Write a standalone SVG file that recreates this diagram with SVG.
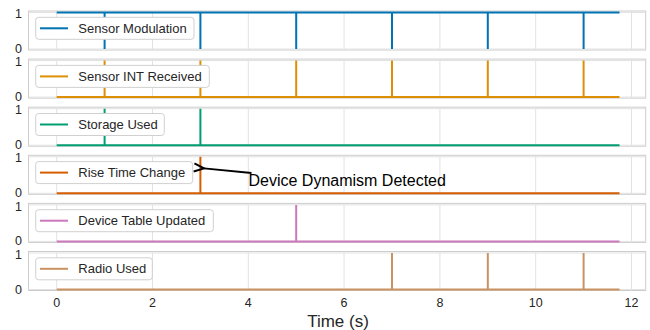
<svg xmlns="http://www.w3.org/2000/svg" width="650" height="330" viewBox="0 0 650 330">
<defs>
<style>
text{font-family:"Liberation Sans",Arial,sans-serif;fill:#262626}
.frame{fill:#fff;stroke:#cccccc;stroke-width:1}
.grid{stroke:#e2e2e2;stroke-width:1;fill:none}
.ytick{font-size:12.5px;text-anchor:end}
.xtick{font-size:12.5px;text-anchor:middle}
.leg{fill:#fff;stroke:#d0d0d0;stroke-width:1}
.legt{font-size:13px}
.sig{fill:none;stroke-width:2;stroke-linejoin:miter}
</style>
<marker id="ah" markerWidth="14" markerHeight="14" refX="1.5" refY="7" orient="auto" markerUnits="userSpaceOnUse">
<path d="M11.5,3 L1.5,7 L11.5,11" fill="none" stroke="#000" stroke-width="2"/>
</marker>
</defs>
<rect width="650" height="330" fill="#fff"/>

<!-- Panel 1 -->
<g id="panel-sensor-modulation">
<rect class="frame" x="28.5" y="11" width="617.2" height="39"/>
<path class="grid" d="M56.7 11V50M152.5 11V50M248.3 11V50M344.1 11V50M439.9 11V50M535.7 11V50M631.5 11V50M28.5 12.5H645.7M28.5 49H645.7"/>
<path class="sig" stroke="#0173b2" d="M56.7 12.5H104.6V49V12.5H200.4V49V12.5H296.2V49V12.5H392V49V12.5H487.8V49V12.5H583.6V49V12.5H619.5"/>
<text class="ytick" x="22" y="17.8">1</text>
<text class="ytick" x="22" y="53">0</text>
<rect class="leg" x="35.7" y="17.3" width="158.3" height="22" rx="3"/>
<line x1="40" y1="28.3" x2="68" y2="28.3" stroke="#0173b2" stroke-width="2"/>
<text class="legt" x="78.3" y="32.8">Sensor Modulation</text>
</g>

<!-- Panel 2 -->
<g id="panel-sensor-int-received">
<rect class="frame" x="28.5" y="59.1" width="617.2" height="39"/>
<path class="grid" d="M56.7 59.1V98.1M152.5 59.1V98.1M248.3 59.1V98.1M344.1 59.1V98.1M439.9 59.1V98.1M535.7 59.1V98.1M631.5 59.1V98.1M28.5 60.6H645.7M28.5 97.1H645.7"/>
<path class="sig" stroke="#de8f05" d="M56.7 97.1H104.6V60.6V97.1H200.4V60.6V97.1H296.2V60.6V97.1H392V60.6V97.1H487.8V60.6V97.1H583.6V60.6V97.1H619.5"/>
<text class="ytick" x="22" y="66.2">1</text>
<text class="ytick" x="22" y="101.1">0</text>
<rect class="leg" x="35.7" y="65.4" width="173.6" height="22" rx="3"/>
<line x1="40" y1="76.4" x2="68" y2="76.4" stroke="#de8f05" stroke-width="2"/>
<text class="legt" x="78.3" y="80.9">Sensor INT Received</text>
</g>

<!-- Panel 3 -->
<g id="panel-storage-used">
<rect class="frame" x="28.5" y="107.2" width="617.2" height="39"/>
<path class="grid" d="M56.7 107.2V146.2M152.5 107.2V146.2M248.3 107.2V146.2M344.1 107.2V146.2M439.9 107.2V146.2M535.7 107.2V146.2M631.5 107.2V146.2M28.5 108.7H645.7M28.5 145.2H645.7"/>
<path class="sig" stroke="#029e73" d="M56.7 145.2H104.6V108.7V145.2H200.4V108.7V145.2H619.5"/>
<text class="ytick" x="22" y="114.3">1</text>
<text class="ytick" x="22" y="149.2">0</text>
<rect class="leg" x="35.7" y="113.5" width="128.6" height="22" rx="3"/>
<line x1="40" y1="124.5" x2="68" y2="124.5" stroke="#029e73" stroke-width="2"/>
<text class="legt" x="78.3" y="129">Storage Used</text>
</g>

<!-- Panel 4 -->
<g id="panel-rise-time-change">
<rect class="frame" x="28.5" y="155.3" width="617.2" height="39"/>
<path class="grid" d="M56.7 155.3V194.3M152.5 155.3V194.3M248.3 155.3V194.3M344.1 155.3V194.3M439.9 155.3V194.3M535.7 155.3V194.3M631.5 155.3V194.3M28.5 156.8H645.7M28.5 193.3H645.7"/>
<path class="sig" stroke="#d55e00" d="M56.7 193.3H200.4V156.8V193.3H619.5"/>
<text class="ytick" x="22" y="162.4">1</text>
<text class="ytick" x="22" y="197.3">0</text>
<rect class="leg" x="35.7" y="161.6" width="157" height="22" rx="3"/>
<line x1="40" y1="172.6" x2="68" y2="172.6" stroke="#d55e00" stroke-width="2"/>
<text class="legt" x="78.3" y="177.1">Rise Time Change</text>
</g>

<!-- Panel 5 -->
<g id="panel-device-table-updated">
<rect class="frame" x="28.5" y="203.4" width="617.2" height="39"/>
<path class="grid" d="M56.7 203.4V242.4M152.5 203.4V242.4M248.3 203.4V242.4M344.1 203.4V242.4M439.9 203.4V242.4M535.7 203.4V242.4M631.5 203.4V242.4M28.5 204.9H645.7M28.5 241.4H645.7"/>
<path class="sig" stroke="#cc78bc" d="M56.7 241.4H296.2V204.9V241.4H619.5"/>
<text class="ytick" x="22" y="210.5">1</text>
<text class="ytick" x="22" y="245.4">0</text>
<rect class="leg" x="35.7" y="209.7" width="177.6" height="22" rx="3"/>
<line x1="40" y1="220.7" x2="68" y2="220.7" stroke="#cc78bc" stroke-width="2"/>
<text class="legt" x="78.3" y="225.2">Device Table Updated</text>
</g>

<!-- Panel 6 -->
<g id="panel-radio-used">
<rect class="frame" x="28.5" y="251.5" width="617.2" height="39"/>
<path class="grid" d="M56.7 251.5V290.5M152.5 251.5V290.5M248.3 251.5V290.5M344.1 251.5V290.5M439.9 251.5V290.5M535.7 251.5V290.5M631.5 251.5V290.5M28.5 253H645.7M28.5 289.5H645.7"/>
<path class="sig" stroke="#ca9161" d="M56.7 289.5H392V253V289.5H487.8V253V289.5H583.6V253V289.5H619.5"/>
<text class="ytick" x="22" y="258.6">1</text>
<text class="ytick" x="22" y="294">0</text>
<rect class="leg" x="35.7" y="257.8" width="116.6" height="22" rx="3"/>
<line x1="40" y1="268.8" x2="68" y2="268.8" stroke="#ca9161" stroke-width="2"/>
<text class="legt" x="78.3" y="273.3">Radio Used</text>
</g>

<!-- X axis -->
<g id="x-axis">
<text class="xtick" x="56.7" y="307">0</text>
<text class="xtick" x="152.5" y="307">2</text>
<text class="xtick" x="248.3" y="307">4</text>
<text class="xtick" x="344.1" y="307">6</text>
<text class="xtick" x="439.9" y="307">8</text>
<text class="xtick" x="535.7" y="307">10</text>
<text class="xtick" x="631.5" y="307">12</text>
<text x="338" y="327" font-size="17" text-anchor="middle">Time (s)</text>
</g>

<!-- Annotation -->
<g id="connectors">
<line x1="251.5" y1="173" x2="204" y2="168.4" stroke="#000" stroke-width="1.8" marker-end="url(#ah)"/>
</g>
<g id="annotation">
<text x="248.5" y="186" font-size="16" style="fill:#000">Device Dynamism Detected</text>
</g>
</svg>
